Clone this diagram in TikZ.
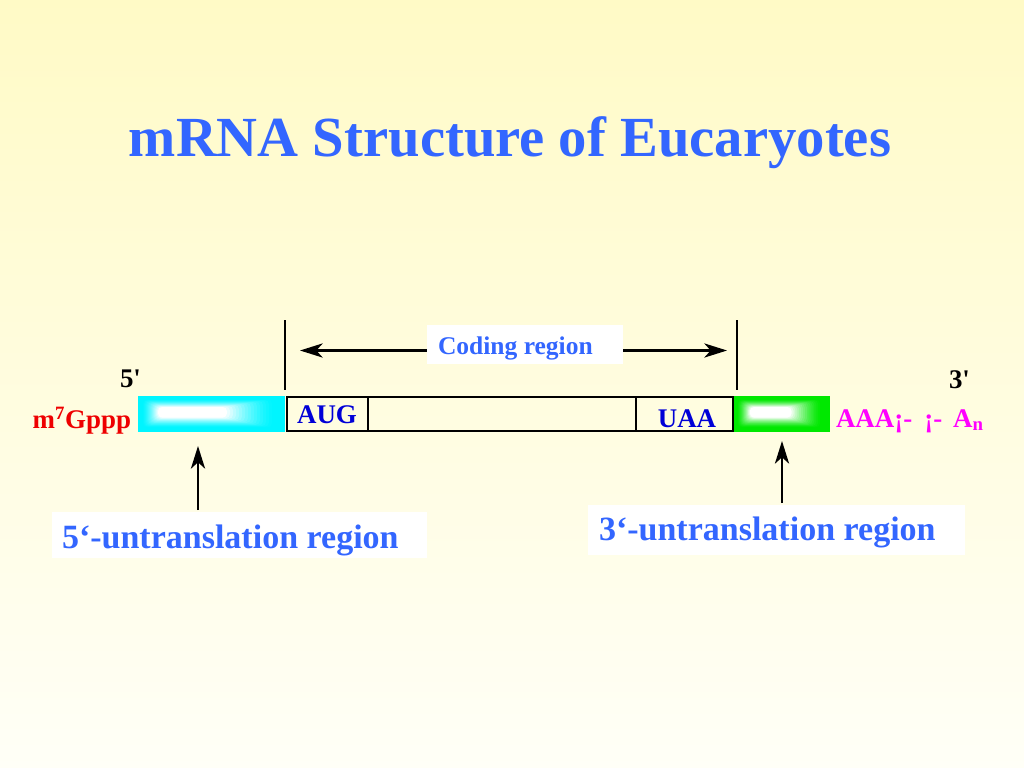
\documentclass[tikz,border=0pt]{standalone}
\usepackage{fontspec}
\setmainfont{Liberation Serif}
\usetikzlibrary{arrows.meta}
\definecolor{bgtop}{RGB}{255,250,198}
\definecolor{bgbot}{RGB}{255,255,247}
\definecolor{ttlblue}{RGB}{51,102,255}
\definecolor{codonblue}{RGB}{0,0,215}
\definecolor{capred}{RGB}{238,0,0}
\definecolor{polyA}{RGB}{255,0,255}
\definecolor{utrcyan}{RGB}{0,245,255}
\definecolor{utrgreen}{RGB}{0,232,0}
\def\PX{0.703125bp}
\begin{document}
\begin{tikzpicture}[x=0.703125bp,y=-0.703125bp,
  txt/.style={inner sep=0pt, outer sep=0pt},
  midfont/.style={font=\fontsize{19}{22}\selectfont\bfseries},
  lblfont/.style={font=\fontsize{24}{28}\selectfont\bfseries, text=ttlblue},
  cellbox/.style={draw=black, line width=1.6pt, inner sep=0pt, outer sep=0pt, minimum height=34*\PX},
  whitebox/.style={fill=white, inner sep=0pt, outer sep=0pt},
  tick/.style={line width=1.5pt},
  arr/.style={line width=1.6pt, -{Stealth[length=16pt, width=10pt, inset=4.5pt]}},
  darr/.style={line width=1.6pt, {Stealth[length=16pt, width=10pt, inset=4.5pt]}-{Stealth[length=16pt, width=10pt, inset=4.5pt]}}
]
% background
\shade[top color=bgtop, bottom color=bgbot] (0,0) rectangle (1024,768);
\useasboundingbox (0,0) rectangle (1024,768);

% title
\node[txt, anchor=base, font=\fontsize{40}{48}\selectfont\bfseries, text=ttlblue] (title) at (510,157) {mRNA Structure of Eucaryotes};

% coding region markers
\coordinate (tlT) at (285,320); \coordinate (tlB) at (285,390);
\coordinate (trT) at (737,320); \coordinate (trB) at (737,390);
\draw[tick] (tlT) -- (tlB);
\draw[tick] (trT) -- (trB);
\coordinate (cl) at (300,350.5); \coordinate (cr) at (727,350.5);
\draw[darr] (cl) -- (cr);
\node[whitebox, minimum width=196*\PX, minimum height=39*\PX] (codebox) at (525,344) {};
\node[txt, anchor=base west, font=\fontsize{18}{21}\selectfont\bfseries, text=ttlblue] (codetxt) at (438,354) {Coding region};

% 5' UTR (cyan) with soft white glow
\node[fill=utrcyan, inner sep=0pt, outer sep=0pt, minimum width=147*\PX, minimum height=36*\PX] (utr5) at (211.5,414) {};
\foreach \k in {1,...,16}{
  \pgfmathsetmacro\mix{100*(\k/16)^1.4}
  \fill[white!\mix!utrcyan, rounded corners=3pt]
    ({138+4+1.0*\k},{396+3+0.5*\k}) rectangle ({285-10-3.0*\k},{432-4-0.65*\k});
}
% 3' UTR (green) with soft white glow
\node[fill=utrgreen, inner sep=0pt, outer sep=0pt, minimum width=97*\PX, minimum height=36*\PX] (utr3) at (781.5,414) {};
\foreach \k in {1,...,16}{
  \pgfmathsetmacro\mix{100*(\k/16)^1.4}
  \fill[white!\mix!utrgreen, rounded corners=3pt]
    ({733+4+0.8*\k},{396+3+0.5*\k}) rectangle ({830-8-1.9*\k},{432-4-0.65*\k});
}

% coding cells
\node[cellbox, minimum width=81*\PX] (aug) at (327.5,414) {};
\node[cellbox, minimum width=268*\PX] (mid) at (502,414) {};
\node[cellbox, minimum width=97*\PX] (uaa) at (684.5,414) {};
\node[txt, midfont, text=codonblue, anchor=base] (augtxt) at (327,423) {AUG};
\node[txt, midfont, text=codonblue, anchor=base] (uaatxt) at (687,427) {UAA};

% ends
\node[txt, midfont, text=black, anchor=base west] (five) at (120,387) {5\textquotesingle};
\node[txt, midfont, text=black, anchor=base west] (three) at (949,388) {3\textquotesingle};
\node[txt, midfont, text=capred, anchor=base east] (cap) at (131,428) {m\textsuperscript{7}Gppp};
\node[txt, midfont, text=polyA, anchor=base west] (tail) at (836,427) {AAA¡-\hspace{0.45em}¡-\hspace{0.4em}A\textsubscript{n}};

% UTR labels
\node[whitebox, minimum width=375*\PX, minimum height=46*\PX] (lbl5box) at (239.5,535) {};
\node[txt, lblfont, anchor=base west] (lbl5) at (62,548) {5‘-untranslation region};
\node[whitebox, minimum width=377*\PX, minimum height=50*\PX] (lbl3box) at (776.5,530) {};
\node[txt, lblfont, anchor=base west] (lbl3) at (599,540) {3‘-untranslation region};

% pointers
\coordinate (p5b) at (198,510); \coordinate (p5t) at (198,446);
\coordinate (p3b) at (782,503); \coordinate (p3t) at (782,441);
\draw[arr] (p5b) -- (p5t);
\draw[arr] (p3b) -- (p3t);
\end{tikzpicture}
\end{document}
